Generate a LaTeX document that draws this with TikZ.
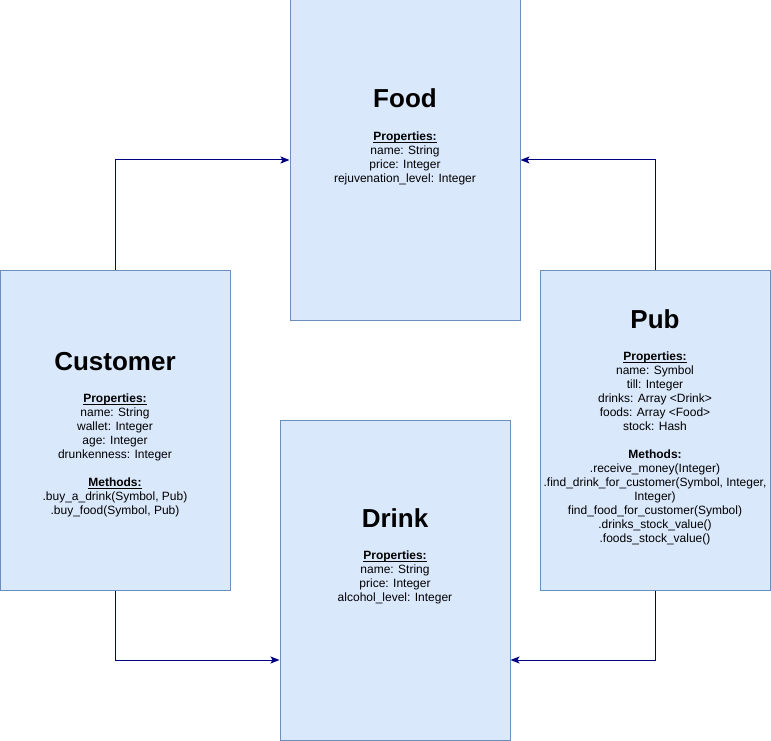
\documentclass[tikz,border=0pt]{standalone}
\usepackage{fontspec}
\setmainfont{Liberation Sans}
\usetikzlibrary{arrows.meta}
\definecolor{boxfill}{HTML}{DAE8FC}
\definecolor{boxline}{HTML}{6C8EBF}
\definecolor{arrowcol}{HTML}{000080}
\tikzset{
  classbox/.style={draw=boxline, fill=boxfill, line width=1pt, minimum width=230pt, minimum height=320pt, inner sep=0pt},
  titletext/.style={font=\fontsize{26}{30}\selectfont\bfseries, anchor=base, inner sep=0pt},
  bodytext/.style={font=\fontsize{12}{14}\selectfont, align=center, anchor=north, inner sep=0pt},
  link/.style={draw=arrowcol, line width=1pt, -{Stealth[length=9pt,width=7pt,inset=2pt]}}
}
\newlength\hdw
\newcommand{\hd}[1]{\settowidth{\hdw}{\textbf{#1}}\textbf{#1}\hspace{-\hdw}\rule[-2pt]{\hdw}{0.8pt}}
\begin{document}
\begin{tikzpicture}[x=1pt,y=-1pt]
\useasboundingbox (0,0) rectangle (771,741);
\node[classbox] (food) at (405,160) {};
\node[classbox] (customer) at (115,430) {};
\node[classbox] (pub) at (655,430) {};
\node[classbox] (drink) at (395,580) {};

\node[titletext] (foodt) at (405,107.5) {Food};
\node[bodytext] (foodb) at (405,132) {\hd{Properties:}\\name: String\\price: Integer\\rejuvenation\_level: Integer};

\node[titletext] (customert) at (115,370.5) {Customer};
\node[bodytext] (customerb) at (115,394) {\hd{Properties:}\\name: String\\wallet: Integer\\age: Integer\\drunkenness: Integer\\[14pt]\hd{Methods:}\\.buy\_a\_drink(Symbol, Pub)\\.buy\_food(Symbol, Pub)};

\node[titletext] (pubt) at (655,328.5) {Pub};
\node[bodytext] (pubb) at (655,352) {\hd{Properties:}\\name: Symbol\\till: Integer\\drinks: Array <Drink>\\foods: Array <Food>\\stock: Hash\\[14pt]\textbf{Methods:}\\.receive\_money(Integer)\\.find\_drink\_for\_customer(Symbol, Integer,\\Integer)\\find\_food\_for\_customer(Symbol)\\.drinks\_stock\_value()\\.foods\_stock\_value()};

\node[titletext] (drinkt) at (395,527.5) {Drink};
\node[bodytext] (drinkb) at (395,551) {\hd{Properties:}\\name: String\\price: Integer\\alcohol\_level: Integer};

\coordinate (c1) at (115,160);
\coordinate (c2) at (655,160);
\coordinate (c3) at (115,660);
\coordinate (c4) at (655,660);
\draw[link] (customer.north) -- (c1) -- (food.west |- c1);
\draw[link] (pub.north) -- (c2) -- (food.east |- c2);
\draw[link] (customer.south) -- (c3) -- (drink.west |- c3);
\draw[link] (pub.south) -- (c4) -- (drink.east |- c4);
\end{tikzpicture}
\end{document}
